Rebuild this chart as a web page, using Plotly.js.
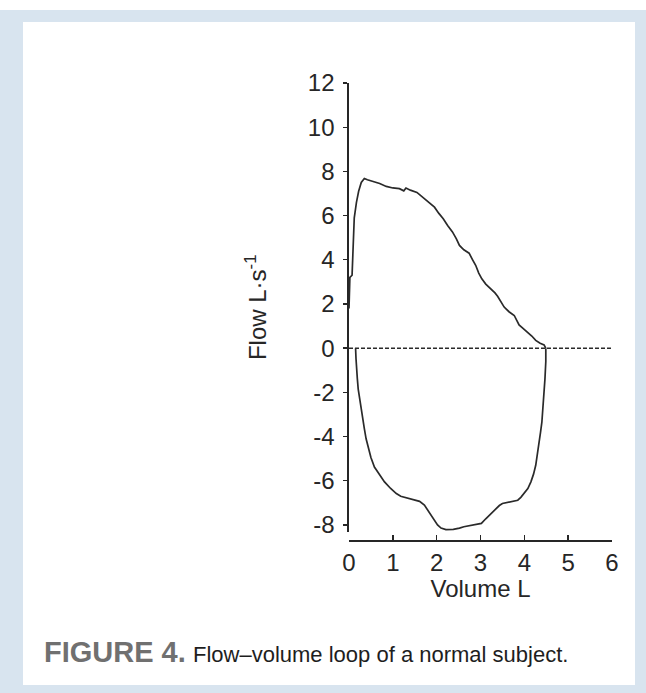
<!DOCTYPE html>
<html>
<head>
<meta charset="utf-8">
<script src="https://cdn.plot.ly/plotly-3.0.1.min.js"></script>
<style>html,body{margin:0;padding:0;background:#d6e3ee;}</style>
</head>
<body>
<div id="chart" style="width:646px;height:693px;"></div>
<script>
// Expiratory limb (positive flow), volume in L, flow in L/s
const volumeExp = [0.0,0.01,0.02,0.07,0.10,0.12,0.17,0.22,0.28,0.35,0.42,0.55,0.70,0.85,1.00,1.15,1.25,1.30,1.40,1.55,1.70,1.85,1.95,2.05,2.15,2.25,2.36,2.45,2.52,2.62,2.74,2.82,2.89,2.96,3.03,3.12,3.24,3.33,3.39,3.46,3.54,3.65,3.77,3.83,3.88,3.97,4.07,4.17,4.26,4.36,4.45,4.49];
const flowExp   = [1.8,2.6,3.2,3.3,5.0,5.9,6.6,7.1,7.5,7.68,7.62,7.55,7.45,7.32,7.25,7.22,7.12,7.25,7.15,7.05,6.8,6.55,6.38,6.1,5.86,5.55,5.26,4.95,4.65,4.45,4.3,4.0,3.75,3.4,3.14,2.9,2.69,2.5,2.35,2.1,1.86,1.65,1.48,1.25,1.05,0.9,0.73,0.55,0.35,0.22,0.15,0.0];
// Inspiratory limb (negative flow)
const volumeInsp = [4.49,4.49,4.47,4.45,4.43,4.40,4.37,4.34,4.30,4.26,4.21,4.15,4.08,4.00,3.92,3.85,3.72,3.58,3.50,3.43,3.33,3.25,3.12,3.02,2.88,2.75,2.62,2.52,2.38,2.21,2.10,2.02,1.95,1.88,1.81,1.72,1.61,1.45,1.31,1.18,1.08,0.95,0.81,0.68,0.58,0.50,0.44,0.39,0.35,0.30,0.25,0.21,0.19,0.17,0.16,0.15];
const flowInsp   = [0.0,-0.6,-1.4,-2.1,-2.8,-3.35,-3.8,-4.25,-4.8,-5.3,-5.7,-6.05,-6.35,-6.58,-6.75,-6.88,-6.93,-6.97,-7.03,-7.12,-7.3,-7.48,-7.72,-7.93,-7.98,-8.02,-8.08,-8.14,-8.2,-8.21,-8.14,-8.0,-7.8,-7.57,-7.34,-7.1,-6.93,-6.85,-6.8,-6.7,-6.58,-6.35,-6.05,-5.7,-5.38,-4.95,-4.55,-4.1,-3.64,-3.0,-2.43,-1.85,-1.38,-0.9,-0.48,0.0];

const xTicks = [0,1,2,3,4,5,6];
const yTicks = [-8,-6,-4,-2,0,2,4,6,8,10,12];

const W = 646, H = 693;
const L = 349, R = 34, T = 83, B = 153;
const pw = W - L - R, ph = H - T - B;
const px = v => (v - L) / pw;
const py = v => (H - B - v) / ph;

const font = 'Liberation Sans, Arial, Helvetica, sans-serif';
const ink = '#262626';

const traces = [
  {x: volumeExp, y: flowExp, mode: 'lines', line: {color: '#2a2a2a', width: 1.7}, hoverinfo: 'skip', showlegend: false},
  {x: volumeInsp, y: flowInsp, mode: 'lines', line: {color: '#2a2a2a', width: 1.7}, hoverinfo: 'skip', showlegend: false}
];

const layout = {
  width: W, height: H,
  margin: {l: L, r: R, t: T, b: B, pad: 0},
  paper_bgcolor: '#d8e4ef',
  plot_bgcolor: 'rgba(0,0,0,0)',
  font: {family: font, color: ink, size: 24},
  showlegend: false,
  xaxis: {
    range: [0, 6], tickvals: xTicks, ticktext: xTicks.map(String),
    anchor: 'free', position: 0,
    showline: true, linecolor: ink, linewidth: 1.7,
    ticks: 'inside', ticklen: 5, tickwidth: 1.4, tickcolor: ink,
    showgrid: false, zeroline: false,
    tickfont: {size: 24, color: ink, family: font},
    ticklabelstandoff: 0,
    title: {text: 'Volume L', font: {size: 24, color: ink, family: font}, standoff: 0},
    fixedrange: true
  },
  yaxis: {
    range: [-8.3, 12], domain: [0.0184, 1],
    tickvals: yTicks, ticktext: yTicks.map(String),
    showline: true, linecolor: ink, linewidth: 1.7,
    ticks: 'outside', ticklen: 4, tickwidth: 1.4, tickcolor: ink,
    showgrid: false, zeroline: false,
    tickfont: {size: 24, color: ink, family: font},
    ticklabelstandoff: 4,
    title: {text: 'Flow L·s<sup>-1</sup>', font: {size: 24, color: ink, family: font}, standoff: 34},
    fixedrange: true
  },
  shapes: [
    {type: 'rect', xref: 'paper', yref: 'paper', x0: px(23), x1: px(635), y0: py(685), y1: py(22),
     fillcolor: '#ffffff', line: {width: 0}, layer: 'below'},
    {type: 'rect', xref: 'paper', yref: 'paper', x0: px(0), x1: px(646), y0: py(10), y1: py(0),
     fillcolor: '#ffffff', line: {width: 0}, layer: 'below'},
    {type: 'line', xref: 'x', yref: 'y', x0: 0, x1: 6, y0: 0, y1: 0,
     line: {color: '#2a2a2a', width: 1.6, dash: '4px,2px'}}
  ],
  annotations: [
    {xref: 'paper', yref: 'paper', x: px(42), y: py(670), xanchor: 'left', yanchor: 'bottom',
     showarrow: false, text: '<b>FIGURE 4.</b>',
     font: {family: font, size: 29, color: '#707070'}},
    {xref: 'paper', yref: 'paper', x: px(191), y: py(669), xanchor: 'left', yanchor: 'bottom',
     showarrow: false, text: 'Flow–volume loop of a normal subject.',
     font: {family: font, size: 22, color: '#1e1e1e'}}
  ]
};

Plotly.newPlot('chart', traces, layout, {displayModeBar: false, staticPlot: true});
</script>
</body>
</html>
